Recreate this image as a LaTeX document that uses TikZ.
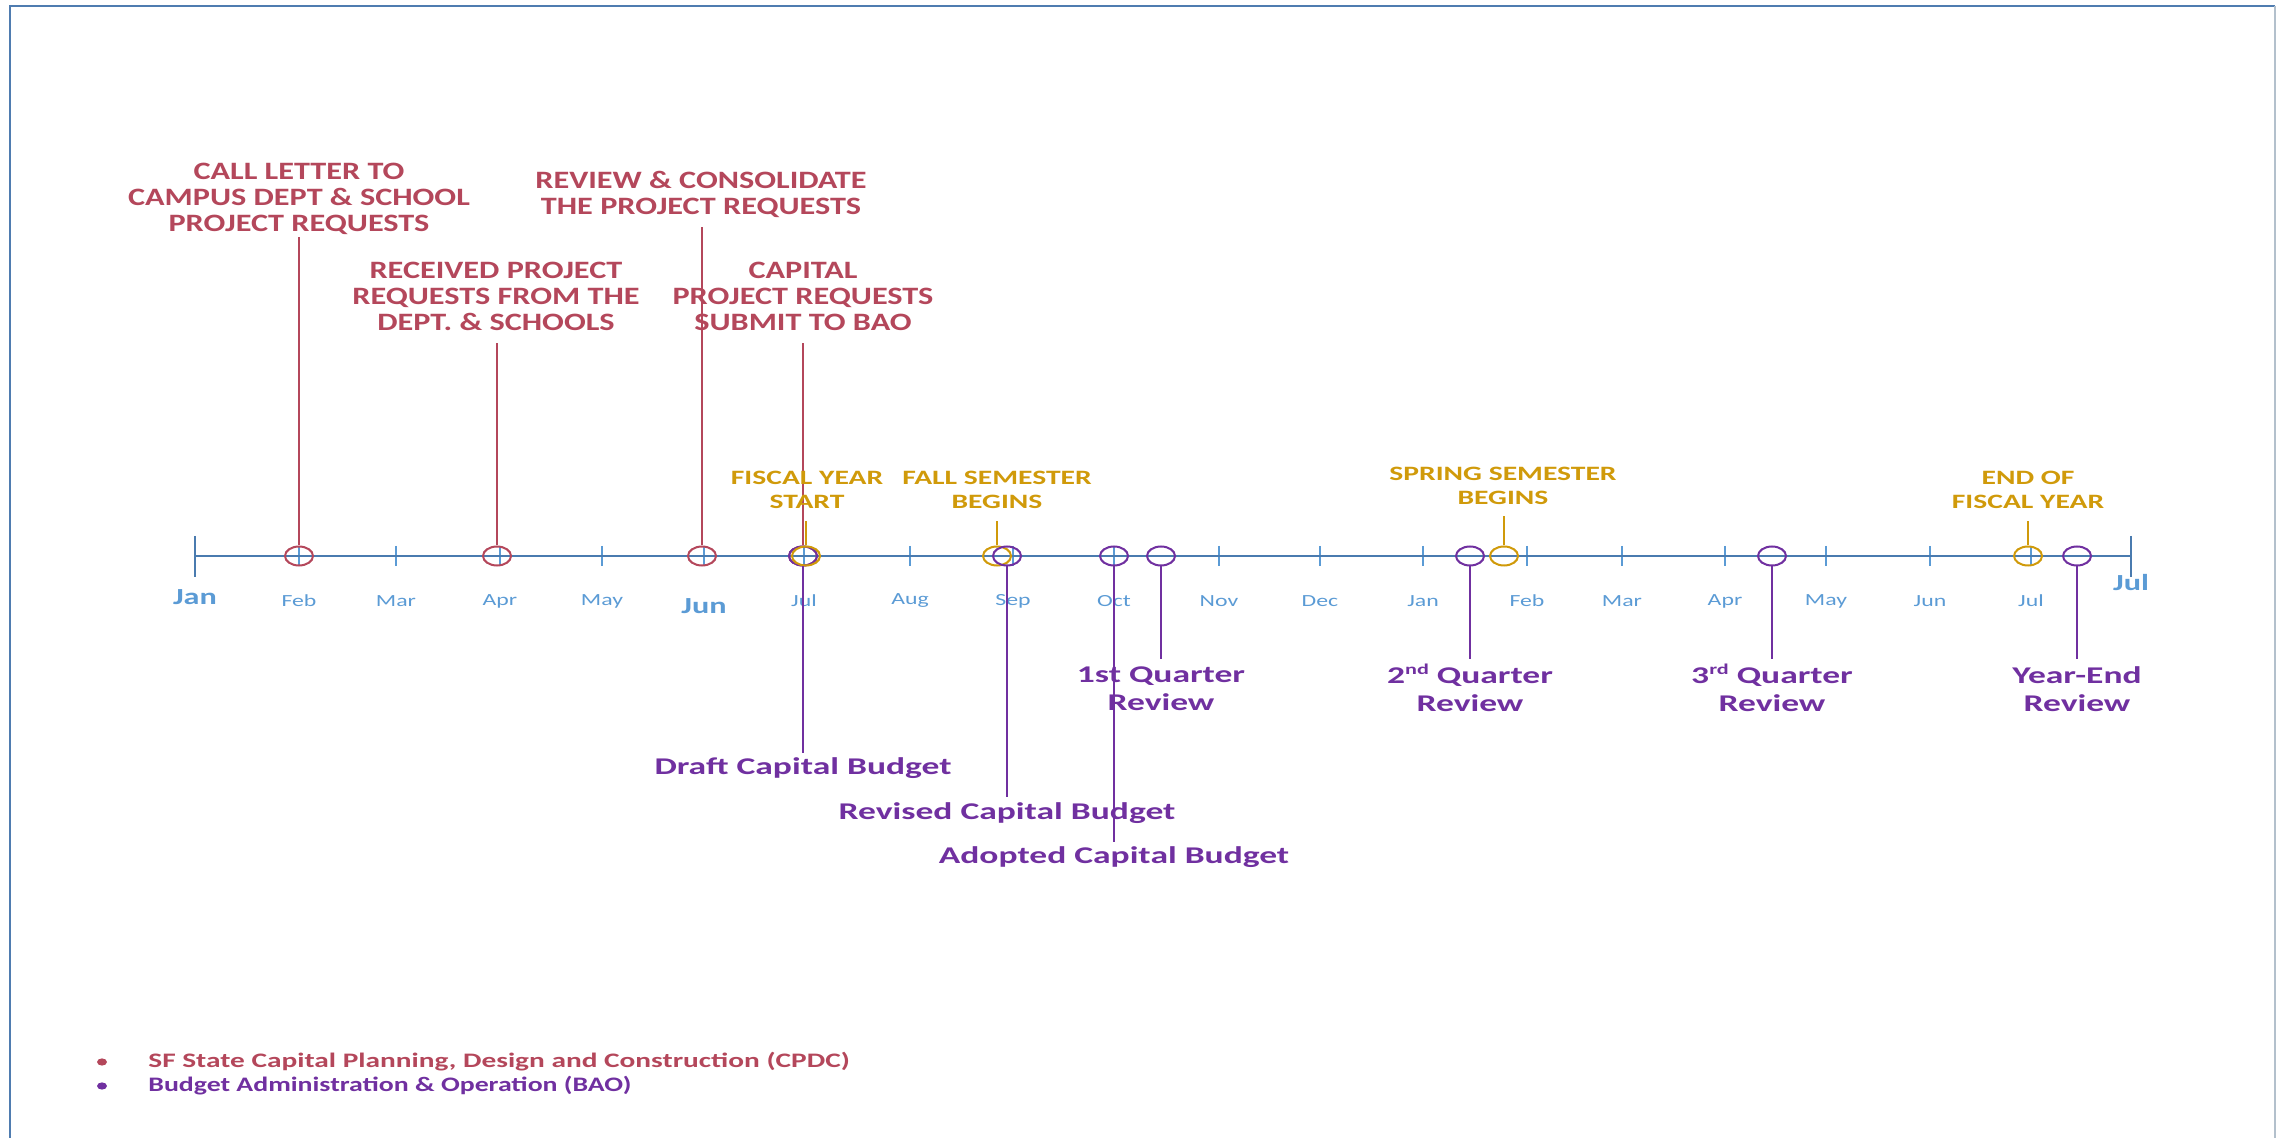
\documentclass[tikz,border=0pt]{standalone}
\usepackage{fontspec}
\usetikzlibrary{shapes.geometric}
\newfontfamily\labfont[FakeStretch=1.4]{Carlito}
\newfontfamily\redfont[FakeStretch=1.29]{Carlito}
\newfontfamily\goldfont[FakeStretch=1.45]{Carlito}
\newfontfamily\purfont[FakeStretch=1.48]{Carlito}
\newfontfamily\legafont[FakeStretch=1.424]{Carlito}
\newfontfamily\legbfont[FakeStretch=1.35]{Carlito}
\definecolor{cred}{HTML}{B4475B}
\definecolor{cgold}{HTML}{D09A0A}
\definecolor{cpur}{HTML}{7030A0}
\definecolor{cmon}{HTML}{5B9BD5}
\definecolor{caxis}{HTML}{4A7BAF}
\definecolor{cframe}{HTML}{4F7CB0}
\definecolor{cframer}{HTML}{B3C0CC}
\newcommand{\supx}[1]{\raisebox{0.75ex}{\fontsize{7.5}{7.5}\selectfont #1}}
\tikzset{
 lab/.style={inner sep=0pt, align=center},
 redlab/.style={lab, text=cred, font=\redfont\bfseries\fontsize{12.5}{13}\selectfont},
 goldlab/.style={lab, text=cgold, font=\goldfont\bfseries\fontsize{10.2}{11.7}\selectfont},
 purlab/.style={lab, text=cpur, font=\purfont\bfseries\fontsize{12}{14}\selectfont},
 monlab/.style={lab, text=cmon, font=\labfont\fontsize{8.5}{10}\selectfont},
 monbig/.style={lab, text=cmon, font=\labfont\bfseries\fontsize{11.5}{13}\selectfont},
 leglab/.style={inner sep=0pt, anchor=west},
 ev/.style={ellipse, draw, line width=1pt, minimum width=14pt, minimum height=9.5pt, inner sep=0pt},
 evred/.style={ev, draw=cred},
 evgold/.style={ev, draw=cgold},
 evpur/.style={ev, draw=cpur},
 stem/.style={line width=1pt},
 mtick/.style={draw=cmon, line width=0.6pt},
 bul/.style={ellipse, minimum width=5pt, minimum height=3.6pt, inner sep=0pt},
}
\begin{document}
\begin{tikzpicture}[x=0.5pt,y=-0.5pt]
\useasboundingbox (0,0) rectangle (2276,1138);
% frame
\draw[cframe, line width=1pt] (10,1140) -- (10,6) -- (2275,6);
\draw[cframer, line width=1pt] (2275,6) -- (2275,1140);
% axis
\coordinate (a0) at (195,556);
\coordinate (a1) at (2131,556);
\foreach \x in {299,396,500,602,704,804,910,1013,1114,1219,1320,1423,1527,1622,1725,1826,1930,2031}
  \draw[mtick] (\x,546) -- (\x,566);
\draw[caxis, line width=1pt] (a0) -- (a1);
\draw[caxis, line width=1pt] (195,536) -- (195,577);
\draw[caxis, line width=1pt] (2131,536) -- (2131,577);
% month labels
\foreach \x/\m [count=\i] in {299/Feb,396/Mar,500/Apr,602/May,804/Jul,910/Aug,1013/Sep,1114/Oct,1219/Nov,1320/Dec,1423/Jan,1527/Feb,1622/Mar,1725/Apr,1826/May,1930/Jun,2031/Jul}
  \node[monlab] (m\i) at (\x,601) {\m};
\node[monbig] (mJan) at (195,597) {Jan};
\node[monbig] (mJun) at (704,606) {Jun};
\node[monbig] (mJulEnd) at (2131,583) {Jul};
% markers
\node[evred] (cFeb) at (299,556) {};
\node[evred] (cApr) at (497,556) {};
\node[evred] (cJun) at (702,556) {};
\node[evred] (cJul) at (803,556) {};
\node[evpur] (pJul) at (803,556) {};
\node[evgold] (gJul) at (806,556) {};
\node[evgold] (gFall) at (997,556) {};
\node[evpur] (pSep) at (1007,556) {};
\node[evpur] (pOct) at (1114,556) {};
\node[evpur] (pQ1) at (1161,556) {};
\node[evpur] (pQ2) at (1470,556) {};
\node[evgold] (gSpr) at (1504,556) {};
\node[evpur] (pQ3) at (1772,556) {};
\node[evgold] (gEnd) at (2028,556) {};
\node[evpur] (pYE) at (2077,556) {};
% stem ends
\coordinate (tFeb) at (299,237);
\coordinate (tApr) at (497,343);
\coordinate (tJun) at (702,227);
\coordinate (tJul) at (803,343);
\coordinate (tgJul) at (806,521);
\coordinate (tgFall) at (997,521);
\coordinate (tgSpr) at (1504,516);
\coordinate (tgEnd) at (2028,521);
\coordinate (tpJul) at (803,753);
\coordinate (tpSep) at (1007,797);
\coordinate (tpOct) at (1114,842);
\coordinate (tpQ1) at (1161,659);
\coordinate (tpQ2) at (1470,659);
\coordinate (tpQ3) at (1772,659);
\coordinate (tpYE) at (2077,659);
\draw[stem, cred] (cFeb.north) -- (tFeb);
\draw[stem, cred] (cApr.north) -- (tApr);
\draw[stem, cred] (cJun.north) -- (tJun);
\draw[stem, cred] (cJul.north) -- (tJul);
\draw[stem, cgold] (gJul.north) -- (tgJul);
\draw[stem, cgold] (gFall.north) -- (tgFall);
\draw[stem, cgold] (gSpr.north) -- (tgSpr);
\draw[stem, cgold] (gEnd.north) -- (tgEnd);
\draw[stem, cpur] (pJul.south) -- (tpJul);
\draw[stem, cpur] (pSep.south) -- (tpSep);
\draw[stem, cpur] (pOct.south) -- (tpOct);
\draw[stem, cpur] (pQ1.south) -- (tpQ1);
\draw[stem, cpur] (pQ2.south) -- (tpQ2);
\draw[stem, cpur] (pQ3.south) -- (tpQ3);
\draw[stem, cpur] (pYE.south) -- (tpYE);
% red labels
\node[redlab] (lCall) at (299,199) {CALL LETTER TO\\CAMPUS DEPT \& SCHOOL\\PROJECT REQUESTS};
\node[redlab] (lRev) at (701,194) {REVIEW \& CONSOLIDATE\\THE PROJECT REQUESTS};
\node[redlab] (lRec) at (496,296) {RECEIVED PROJECT\\REQUESTS FROM THE\\DEPT. \& SCHOOLS};
\node[redlab] (lCap) at (803,296) {CAPITAL\\PROJECT REQUESTS\\SUBMIT TO BAO};
% gold labels
\node[goldlab] (lFis) at (807,490) {FISCAL YEAR\\START};
\node[goldlab] (lFall) at (997,490) {FALL SEMESTER\\BEGINS};
\node[goldlab] (lSpr) at (1503,486) {SPRING SEMESTER\\BEGINS};
\node[goldlab] (lEnd) at (2028,490) {END OF\\FISCAL YEAR};
% purple labels
\node[purlab] (lDraft) at (803,768) {Draft Capital Budget};
\node[purlab] (lRevised) at (1007,813) {Revised Capital Budget};
\node[purlab] (lAdopt) at (1114,857) {Adopted Capital Budget};
\node[purlab] (lQ1) at (1161,689) {1st Quarter\\Review};
\node[purlab] (lQ2) at (1470,688) {2\supx{nd} Quarter\\Review};
\node[purlab] (lQ3) at (1772,688) {3\supx{rd} Quarter\\Review};
\node[purlab] (lYE) at (2077,689) {Year-End\\Review};
% legend
\node[bul, fill=cred] (b1) at (102,1062) {};
\node[leglab, text=cred, font=\legafont\bfseries\fontsize{10.3}{12}\selectfont] (t1) at (148,1062) {SF State Capital Planning, Design and Construction (CPDC)};
\node[bul, fill=cpur] (b2) at (102,1086) {};
\node[leglab, text=cpur, font=\legbfont\bfseries\fontsize{10.3}{12}\selectfont] (t2) at (148,1086) {Budget Administration \& Operation (BAO)};
\end{tikzpicture}
\end{document}
